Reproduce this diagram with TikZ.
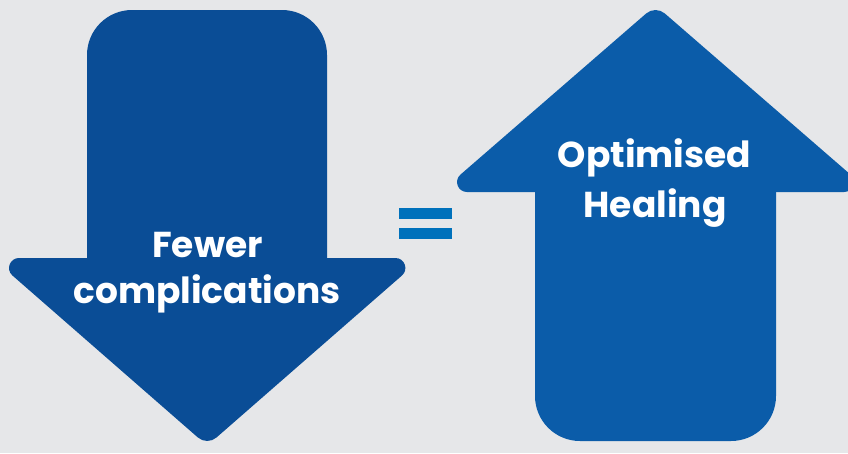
\documentclass[tikz,border=0pt]{standalone}
\usepackage{fontspec}
\setmainfont{Poppins}
\usetikzlibrary{calc}
\definecolor{bgc}{HTML}{E6E7E9}
\definecolor{leftblue}{HTML}{0A4D96}
\definecolor{rightblue}{HTML}{0B5CA9}
\definecolor{eqblue}{HTML}{0071BB}
\tikzset{
  lbl/.style={text=white, font=\fontsize{36}{44}\selectfont\bfseries, anchor=base, inner sep=0pt},
  eqbar/.style={fill=eqblue},
}
% head path: #1 side vertex A, #2 side vertex C, #3 apex
\newcommand{\arrowhead}[3]{%
  ($(#1)!26.6pt!(#2)$) -- ($(#2)!26.6pt!(#1)$)
  .. controls ($(#2)!17.4pt!(#1)$) and ($(#2)!17.4pt!(#3)$) .. ($(#2)!26.6pt!(#3)$)
  -- ($(#3)!12.3pt!(#2)$)
  .. controls ($(#3)!5.3pt!(#2)$) and ($(#3)!5.3pt!(#1)$) .. ($(#3)!12.3pt!(#1)$)
  -- ($(#1)!26.6pt!(#3)$)
  .. controls ($(#1)!17.4pt!(#3)$) and ($(#1)!17.4pt!(#2)$) .. cycle}
\begin{document}
\begin{tikzpicture}[x=1pt,y=-1pt]
\useasboundingbox (0,0) rectangle (848,453);
\fill[bgc] (0,0) rectangle (848,453);
\clip (0,0) rectangle (848,453);
% left arrow (down)
\coordinate (L1) at (-7.6,258);
\coordinate (R1) at (422,258);
\coordinate (B1) at (207.2,445.6);
\fill[leftblue, rounded corners=45pt] (87,10) rectangle (327,330);
\fill[leftblue] \arrowhead{L1}{R1}{B1};
% right arrow (up)
\coordinate (L2) at (440.4,192);
\coordinate (R2) at (870.6,192);
\coordinate (T2) at (655.5,5.4);
\fill[rightblue, rounded corners=45pt] (535,130) rectangle (776,441);
\fill[rightblue] \arrowhead{L2}{R2}{T2};
% equals
\fill[eqbar] (399,208) rectangle (452,219);
\fill[eqbar] (399,228) rectangle (452,239);
% labels
\node[lbl] (fewer) at (207.5,257) {Fewer};
\node[lbl] (compl) at (207,303) {complications};
\node[lbl] (optim) at (654.5,167) {Optimised};
\node[lbl] (heal) at (655,217) {Healing};
\end{tikzpicture}
\end{document}
